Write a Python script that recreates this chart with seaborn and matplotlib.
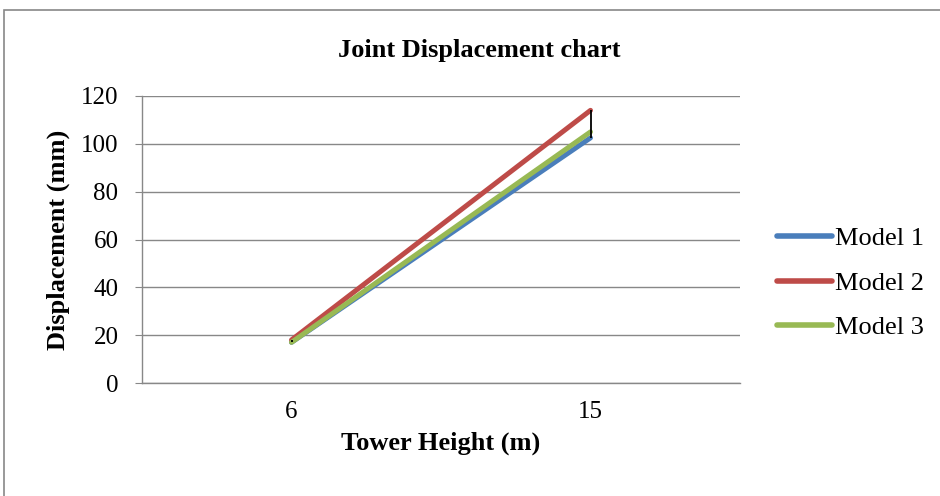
import numpy as np
import pandas as pd
import matplotlib
matplotlib.use("Agg")
import matplotlib.pyplot as plt
import seaborn as sns

heights = ["6", "15"]
model1 = [17, 102.5]
model2 = [18, 114]
model3 = [17, 105]
models = ["Model 1", "Model 2", "Model 3"]
colors = ["#4A7EBB", "#BE4B48", "#98B954"]
yticks = [0, 20, 40, 60, 80, 100, 120]

sns.set_style("white")
plt.rcParams["font.family"] = ["Liberation Serif", "DejaVu Serif"]
plt.rcParams["text.color"] = "black"
plt.rcParams["axes.labelcolor"] = "black"

pos = list(range(len(heights)))
data = pd.DataFrame({
    "pos": pos * 3,
    "val": model1 + model2 + model3,
    "model": [m for m in models for _ in heights],
})

fig = plt.figure(figsize=(9.4, 4.96), dpi=100)
ax = fig.add_axes([142 / 940, 1 - 383 / 496, 598 / 940, 287 / 496])

# outer chart frame
fig.patches.append(plt.Rectangle((4 / 940, -0.01), 1.0, 1 - 10 / 496 + 0.01,
                                 transform=fig.transFigure, fill=False,
                                 edgecolor="#888888", linewidth=1.2))

# high-low lines
vals = np.array([model1, model2, model3])
ax.vlines(pos, vals.min(axis=0), vals.max(axis=0), color="black", linewidth=1.3, zorder=4)

sns.lineplot(data=data, x="pos", y="val", hue="model", palette=colors,
             linewidth=3.6, ax=ax, legend=True, zorder=3,
             solid_capstyle="round")

ax.set_xlim(-0.5, len(heights) - 0.5)
ax.set_ylim(0, 120)
ax.set_yticks(yticks)
ax.set_yticklabels([str(t) for t in yticks], fontsize=18)
ax.set_xticks(pos)
ax.set_xticklabels(heights, fontsize=18)
ax.tick_params(axis="x", length=0, pad=13, labelcolor="black")
ax.tick_params(axis="y", length=5, color="#888888", direction="out", left=True,
               pad=12, labelcolor="black")

ax.grid(axis="y", color="#888888", linewidth=1)
ax.set_axisbelow(True)
for s in ["top", "right"]:
    ax.spines[s].set_visible(False)
for s in ["left", "bottom"]:
    ax.spines[s].set_color("#888888")
    ax.spines[s].set_linewidth(1)

ax.set_xlabel("Tower Height (m)", fontsize=19, fontweight="bold", labelpad=6)
ax.set_ylabel("Displacement (mm)", fontsize=19, fontweight="bold", labelpad=8)
fig.text(479 / 940, 1 - 51 / 496, "Joint Displacement chart", ha="center", va="center",
         fontsize=19, fontweight="bold")

handles, labels = ax.get_legend_handles_labels()
for h in handles:
    h.set_linewidth(4)
ax.legend(handles, labels, loc="center left", bbox_to_anchor=(1.062, 0.348),
          frameon=False, fontsize=19, handlelength=2.1, handletextpad=0.1,
          labelspacing=0.8, borderaxespad=0, borderpad=0)

fig.savefig("out.png", dpi=100)
